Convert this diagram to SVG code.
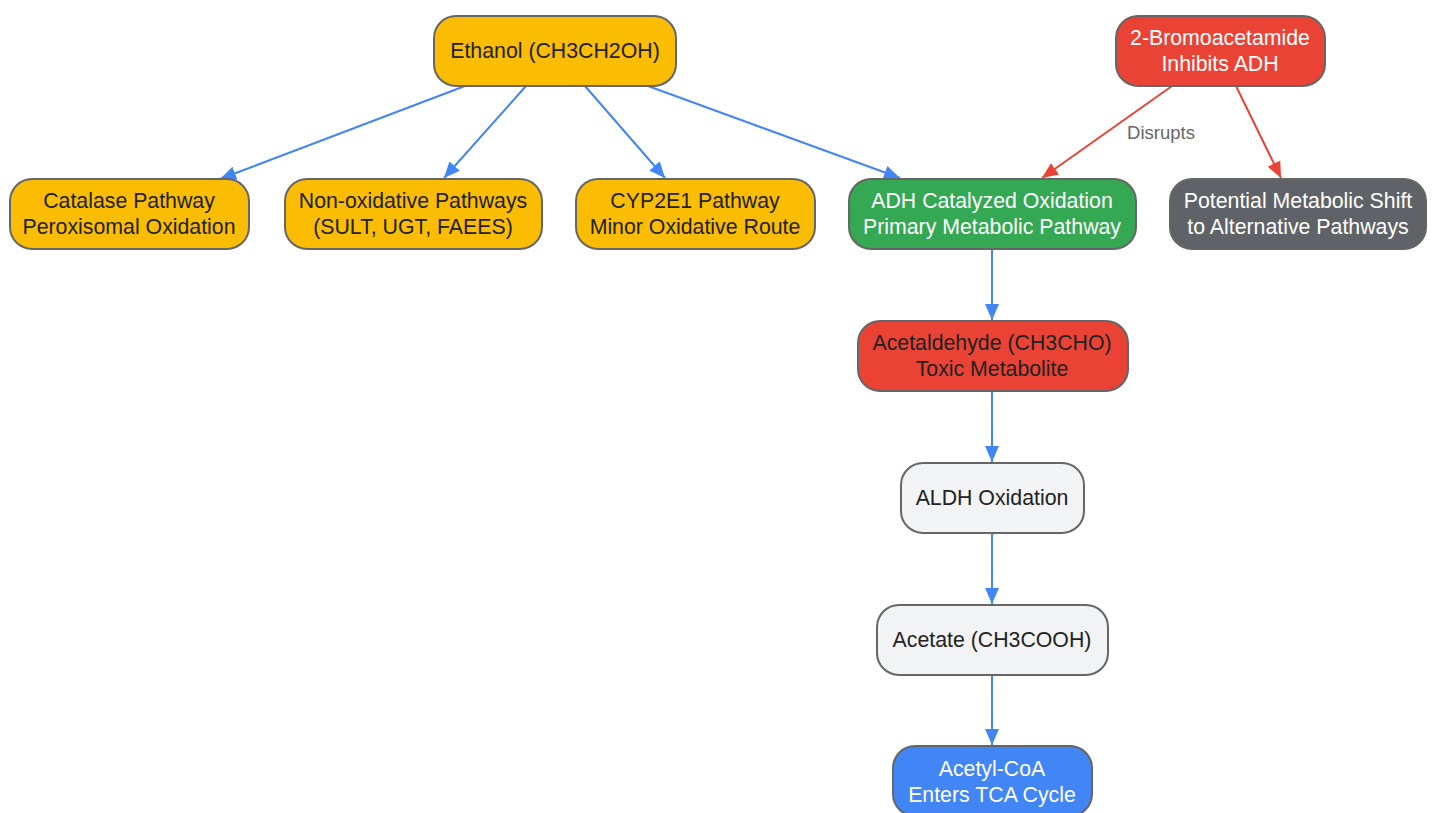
<svg xmlns="http://www.w3.org/2000/svg" width="1433" height="813" viewBox="0 0 1433 813">
<style>
.n rect{stroke:#666;stroke-width:2}
text{font-family:"Liberation Sans",Arial,sans-serif;font-size:21.3px;text-anchor:middle}
.dk{fill:#222}
.wt{fill:#fff}
.e{fill:none;stroke-width:2}
.b{stroke:#4285F4}
.r{stroke:#EA4335}
.lbl{font-size:18.5px;fill:#666}
</style>
<defs>
<marker id="ab" viewBox="0 0 16 16" refX="16" refY="8" markerWidth="16" markerHeight="16" markerUnits="userSpaceOnUse" orient="auto"><path d="M0,1 L16,8 L0,15 Z" fill="#4285F4"/></marker>
<marker id="ar" viewBox="0 0 16 16" refX="16" refY="8" markerWidth="16" markerHeight="16" markerUnits="userSpaceOnUse" orient="auto"><path d="M0,1 L16,8 L0,15 Z" fill="#EA4335"/></marker>
</defs>
<rect width="1433" height="813" fill="#fff"/>
<g id="edges">
<path class="e b" d="M465,86 L220,179" marker-end="url(#ab)"/>
<path class="e b" d="M526,86 L444,178" marker-end="url(#ab)"/>
<path class="e b" d="M585,86 L665,178" marker-end="url(#ab)"/>
<path class="e b" d="M648,86 L900,178" marker-end="url(#ab)"/>
<path class="e r" d="M1172,86 L1042,178" marker-end="url(#ar)"/>
<path class="e r" d="M1236,86 L1281,178" marker-end="url(#ar)"/>
<path class="e b" d="M992,249 L992,320" marker-end="url(#ab)"/>
<path class="e b" d="M992,391 L992,462" marker-end="url(#ab)"/>
<path class="e b" d="M992,533 L992,604" marker-end="url(#ab)"/>
<path class="e b" d="M992,675 L992,745" marker-end="url(#ab)"/>
<text class="lbl" x="1161" y="139">Disrupts</text>
</g>
<g id="ethanol" class="n"><rect x="434" y="16" width="242" height="70" rx="22" fill="#FBBC04"/><text class="dk" x="555" y="58">Ethanol (CH3CH2OH)</text></g>
<g id="bromo" class="n"><rect x="1116" y="16" width="209" height="70" rx="22" fill="#EA4335"/><text class="wt" x="1220" y="45">2-Bromoacetamide</text><text class="wt" x="1220" y="71">Inhibits ADH</text></g>
<g id="catalase" class="n"><rect x="10" y="179" width="239" height="70" rx="22" fill="#FBBC04"/><text class="dk" x="129" y="208">Catalase Pathway</text><text class="dk" x="129" y="234">Peroxisomal Oxidation</text></g>
<g id="nonox" class="n"><rect x="285" y="179" width="257" height="70" rx="22" fill="#FBBC04"/><text class="dk" x="413" y="208">Non-oxidative Pathways</text><text class="dk" x="413" y="234">(SULT, UGT, FAEES)</text></g>
<g id="cyp" class="n"><rect x="576" y="179" width="239" height="70" rx="22" fill="#FBBC04"/><text class="dk" x="695" y="208">CYP2E1 Pathway</text><text class="dk" x="695" y="234">Minor Oxidative Route</text></g>
<g id="adh" class="n"><rect x="849" y="179" width="287" height="70" rx="22" fill="#34A853"/><text class="wt" x="992" y="208">ADH Catalyzed Oxidation</text><text class="wt" x="992" y="234">Primary Metabolic Pathway</text></g>
<g id="shift" class="n"><rect x="1170" y="179" width="256" height="70" rx="22" fill="#5F6368"/><text class="wt" x="1298" y="208">Potential Metabolic Shift</text><text class="wt" x="1298" y="234">to Alternative Pathways</text></g>
<g id="acetaldehyde" class="n"><rect x="858" y="321" width="270" height="70" rx="22" fill="#EA4335"/><text class="dk" x="992" y="350">Acetaldehyde (CH3CHO)</text><text class="dk" x="992" y="376">Toxic Metabolite</text></g>
<g id="aldh" class="n"><rect x="901" y="463" width="183" height="70" rx="22" fill="#F1F3F4"/><text class="dk" x="992" y="505">ALDH Oxidation</text></g>
<g id="acetate" class="n"><rect x="877" y="605" width="231" height="70" rx="22" fill="#F1F3F4"/><text class="dk" x="992" y="647">Acetate (CH3COOH)</text></g>
<g id="acetylcoa" class="n"><rect x="893" y="746" width="199" height="70" rx="22" fill="#4285F4"/><text class="wt" x="992" y="776">Acetyl-CoA</text><text class="wt" x="992" y="802">Enters TCA Cycle</text></g>
</svg>
